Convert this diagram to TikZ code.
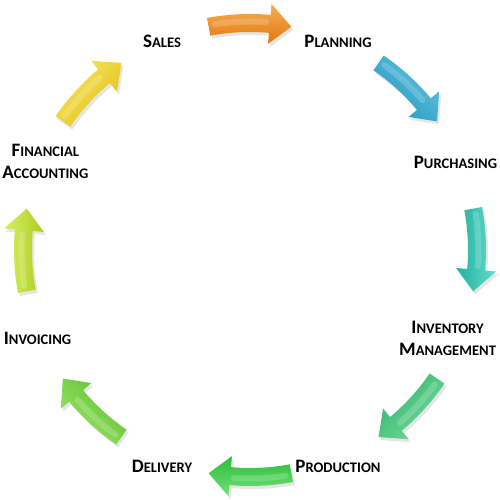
\documentclass[tikz,border=0pt]{standalone}
\usepackage{fontspec}
\setmainfont{Carlito}
\newcommand\smc[2]{#1{\fontsize{8.3}{10}\selectfont #2}}
\definecolor{salesA}{HTML}{F28C20}\definecolor{salesL}{HTML}{F9AE52}\definecolor{salesD}{HTML}{E07812}
\definecolor{planA}{HTML}{36ACD2}\definecolor{planL}{HTML}{62C4E2}\definecolor{planD}{HTML}{2496BC}
\definecolor{purchA}{HTML}{30C8B6}\definecolor{purchL}{HTML}{64DCCD}\definecolor{purchD}{HTML}{22B09F}
\definecolor{invA}{HTML}{48C980}\definecolor{invL}{HTML}{76DCA0}\definecolor{invD}{HTML}{33B36A}
\definecolor{prodA}{HTML}{40D24D}\definecolor{prodL}{HTML}{72E278}\definecolor{prodD}{HTML}{2CBB3A}
\definecolor{delA}{HTML}{74D53E}\definecolor{delL}{HTML}{9CE66C}\definecolor{delD}{HTML}{5CBF2C}
\definecolor{billA}{HTML}{C4E42E}\definecolor{billL}{HTML}{DAF064}\definecolor{billD}{HTML}{ABCC1E}
\definecolor{finA}{HTML}{F4D820}\definecolor{finL}{HTML}{FAE660}\definecolor{finD}{HTML}{DEC012}
\begin{document}
\begin{tikzpicture}[every node/.style={font=\fontsize{10.8}{12.5}\selectfont\bfseries, align=center}]
  \useasboundingbox (-5,-5) rectangle (5,5);
  \clip (-5,-5) rectangle (5,5);
  \def\rad{4.54}
  % stages
  \node (sales) at ([yshift=-2pt]112.5:4.6) {\smc{S}{ALES}};
  \node (plan) at ([yshift=-2pt]67.5:4.6) {\smc{P}{LANNING}};
  \node (purch) at ([xshift=-4pt]22.5:4.6) {\smc{P}{URCHASING}};
  \node (inv) at ([xshift=-9pt]-22.5:4.62) {\smc{I}{NVENTORY}\\ \smc{M}{ANAGEMENT}};
  \node (prod) at ([yshift=-2pt]-67.5:4.6) {\smc{P}{RODUCTION}};
  \node (deliv) at ([yshift=-2pt]-112.5:4.6) {\smc{D}{ELIVERY}};
  \node (bill) at (-157.5:4.6) {\smc{I}{NVOICING}};
  \node (fin) at ([xshift=5pt]157.5:4.62) {\smc{F}{INANCIAL}\\ \smc{A}{CCOUNTING}};
  % curved arrows between stages
  \foreach \mid/\col in {90/sales, 45/plan, 0/purch, -45/inv, -90/prod, -135/del, 180/bill, 135/fin} {
    \pgfmathsetmacro\ta{\mid+10.5}
    \pgfmathsetmacro\tb{\mid-5}
    \pgfmathsetmacro\tc{\mid-10.5}
    \pgfmathsetmacro\sh{\mid-90}
    \fill[black, opacity=.1, shift={(.04,-.06)}]
      (\ta:\rad+.18) arc[start angle=\ta, end angle=\tb, radius=\rad cm+.18cm]
      -- (\tb:\rad+.4) -- (\tc:\rad) -- (\tb:\rad-.4) -- (\tb:\rad-.18)
      arc[start angle=\tb, end angle=\ta, radius=\rad cm-.18cm] -- cycle;
    \shade[top color=\col L, middle color=\col A, bottom color=\col D, shading angle=\sh]
      (\ta:\rad+.18) arc[start angle=\ta, end angle=\tb, radius=\rad cm+.18cm]
      -- (\tb:\rad+.4) -- (\tc:\rad) -- (\tb:\rad-.4) -- (\tb:\rad-.18)
      arc[start angle=\tb, end angle=\ta, radius=\rad cm-.18cm] -- cycle;
    \draw[white, opacity=.18, line width=1.2mm, line cap=round]
      (\ta-1.5:\rad+.03) arc[start angle=\ta-1.5, end angle=\tb+1, radius=\rad cm+.03cm];
  }
\end{tikzpicture}
\end{document}
